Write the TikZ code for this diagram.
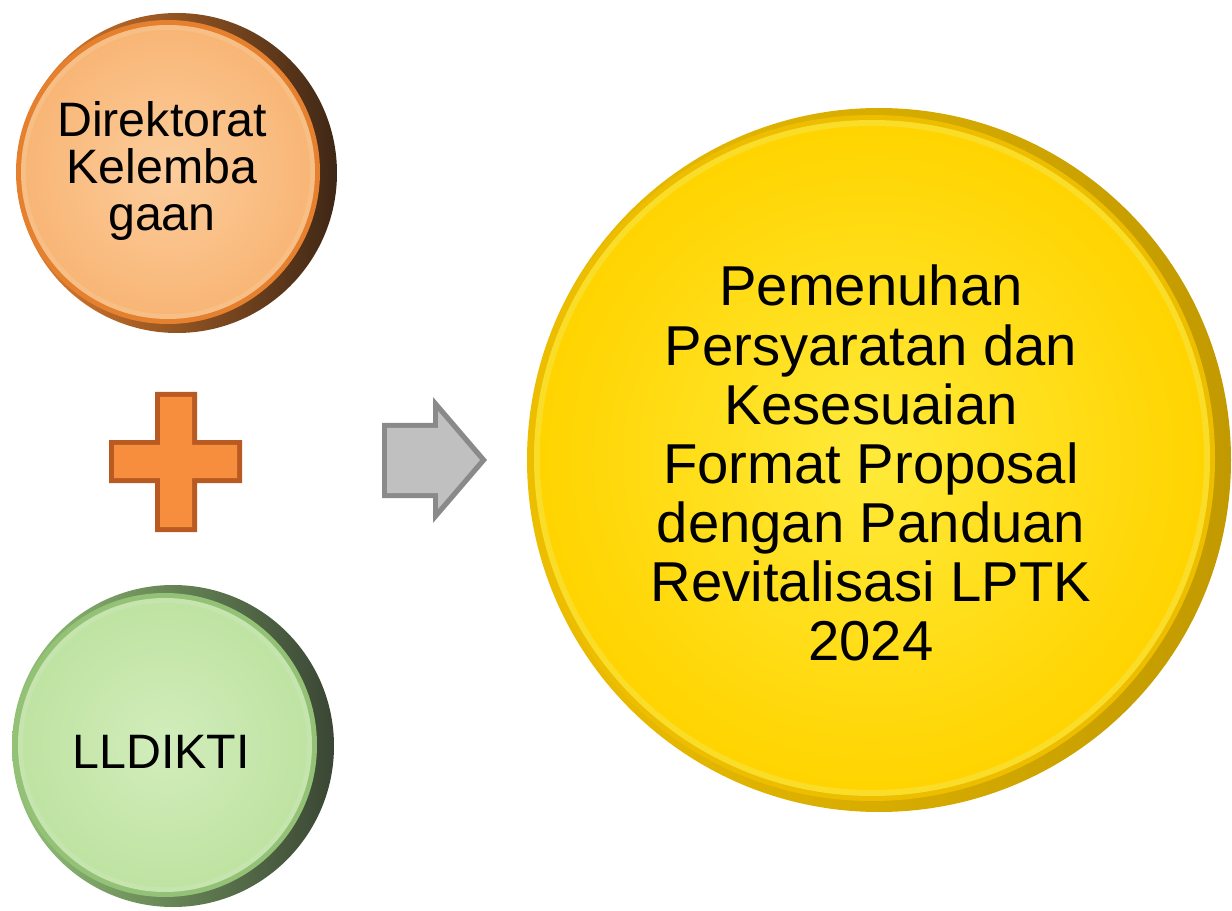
\documentclass[tikz,border=0pt]{standalone}
\usepackage{fontspec}
\setmainfont{Liberation Sans}
\usetikzlibrary{positioning, calc}
\definecolor{orange-rim}{HTML}{3E2716}
\definecolor{orange-ring}{HTML}{E4802E}
\definecolor{orange-face}{HTML}{F8B676}
\definecolor{orange-light}{HTML}{FCCD9C}
\definecolor{green-rim}{HTML}{3A4634}
\definecolor{green-ring}{HTML}{93C277}
\definecolor{green-face}{HTML}{BFE3A2}
\definecolor{green-light}{HTML}{D2EDBC}
\definecolor{gold-rim}{HTML}{C29A00}
\definecolor{gold-ring}{HTML}{EDBE00}
\definecolor{gold-face}{HTML}{FFD400}
\definecolor{gold-light}{HTML}{FFEA3A}
\definecolor{plus-edge}{HTML}{B85A22}
\definecolor{plus-fill}{HTML}{F68E3E}
\definecolor{arrow-edge}{HTML}{8A8A8A}
\definecolor{arrow-fill}{HTML}{C0C0C0}

\begin{document}
\begin{tikzpicture}
  \tikzstyle{coinlabel} = [align=center, text=black, inner sep=0pt]
  \useasboundingbox (0,0) rectangle (24.64,18.2);
% Centres of the coins (face) and their rims.
    \coordinate (dirc) at (3.36,14.76);
    \coordinate (lldc) at (3.30,3.30);
    \coordinate (goalc) at (17.44,9.04);
% DIREKTORAT coin
    \shade[left color=orange-ring, right color=orange-rim] ($(dirc)+(0.18,-0.02)$) circle (3.2);
    \fill[orange-ring] (dirc) circle (3.04);
    \fill[orange-light!80!orange-ring] (dirc) circle (2.94);
    \shade[inner color=orange-light, outer color=orange-face] (dirc) circle (2.84);
    \node[coinlabel, font=\fontsize{27.5}{27}\selectfont] (dir) at (3.24,14.78) {Direktorat\\Kelemba\\gaan};
% LLDIKTI coin
    \shade[left color=green-ring, right color=green-rim] ($(lldc)+(0.16,-0.02)$) circle (3.22);
    \fill[green-ring] (lldc) circle (3.04);
    \fill[green-light!80!green-ring] (lldc) circle (2.94);
    \shade[inner color=green-light, outer color=green-face] (lldc) circle (2.84);
    \node[coinlabel, font=\fontsize{27.5}{27}\selectfont] (lld) at (3.22,3.16) {LLDIKTI};
% GOAL coin
    \shade[left color=gold-ring, right color=gold-rim] ($(goalc)+(0.14,-0.04)$) circle (7.04);
    \fill[gold-ring] (goalc) circle (6.86);
    \fill[gold-light!70!gold-ring] (goalc) circle (6.76);
    \shade[inner color=gold-light, outer color=gold-face] (goalc) circle (6.64);
    \node[coinlabel, font=\fontsize{32}{33.6}\selectfont] (goal) at (17.42,8.94)
      {Pemenuhan\\Persyaratan dan\\Kesesuaian\\Format Proposal\\dengan Panduan\\Revitalisasi LPTK\\2024};
% PLUS sign
    \fill[plus-edge] (2.18,8.54) -- (3.10,8.54) -- (3.10,7.56) -- (3.94,7.56) -- (3.94,8.54)
      -- (4.84,8.54) -- (4.84,9.40) -- (3.94,9.40) -- (3.94,10.36) -- (3.10,10.36)
      -- (3.10,9.40) -- (2.18,9.40) -- cycle;
    \fill[plus-fill] (2.28,8.64) -- (3.20,8.64) -- (3.20,7.66) -- (3.84,7.66) -- (3.84,8.64)
      -- (4.74,8.64) -- (4.74,9.30) -- (3.84,9.30) -- (3.84,10.26) -- (3.20,10.26)
      -- (3.20,9.30) -- (2.28,9.30) -- cycle;
% ARROW
    \fill[arrow-edge] (7.64,8.24) -- (8.66,8.24) -- (8.66,7.74) -- (9.74,9.00)
      -- (8.66,10.26) -- (8.66,9.74) -- (7.64,9.74) -- cycle;
    \fill[arrow-fill] (7.74,8.34) -- (8.76,8.34) -- (8.76,8.02) -- (9.60,9.00)
      -- (8.76,9.98) -- (8.76,9.64) -- (7.74,9.64) -- cycle;
\end{tikzpicture}
\end{document}
